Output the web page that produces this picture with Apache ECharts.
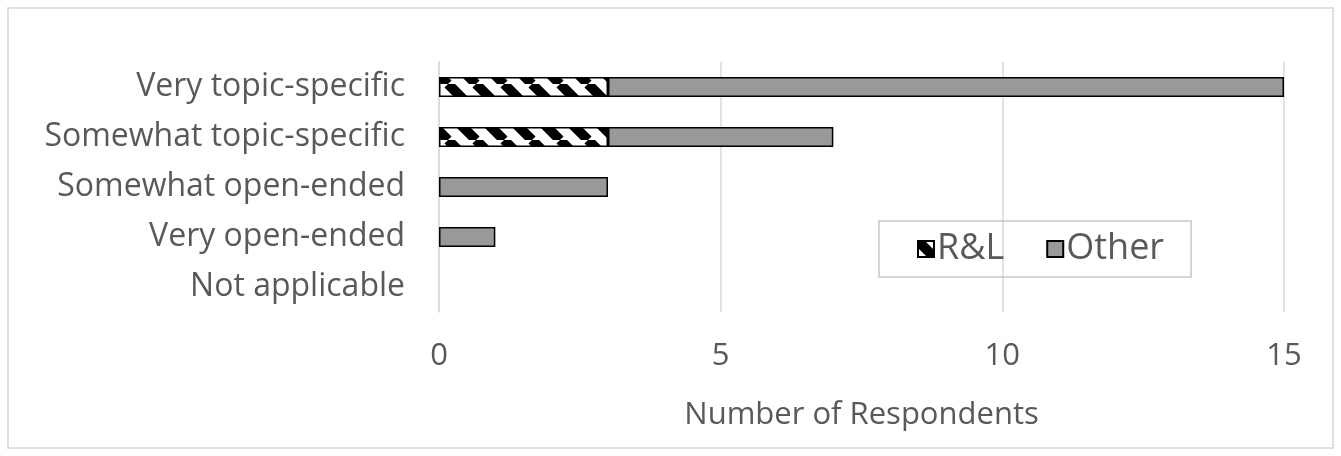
<!DOCTYPE html>
<html>
<head>
<meta charset="utf-8">
<script src="https://cdn.jsdelivr.net/npm/echarts@6/dist/echarts.min.js"></script>
<style>
html,body{margin:0;padding:0;background:#fff;}
#c{width:1341px;height:456px;}
</style>
</head>
<body>
<div id="c"></div>
<script>
const categories = ["Very topic-specific", "Somewhat topic-specific", "Somewhat open-ended", "Very open-ended", "Not applicable"];
const seriesNames = ["R&L", "Other"];
const rlValues = [3, 3, 0, 0, 0];
const otherValues = [12, 4, 3, 1, 0];
const xTicks = [0, 5, 10, 15];

function hatch() {
  const s = 28;
  const cv = document.createElement('canvas');
  cv.width = s; cv.height = s;
  const ctx = cv.getContext('2d');
  ctx.fillStyle = '#fff';
  ctx.fillRect(0, 0, s, s);
  ctx.strokeStyle = '#000';
  ctx.lineWidth = 10;
  for (const x0 of [-s, 0, s]) {
    ctx.beginPath();
    ctx.moveTo(x0, 0);
    ctx.lineTo(x0 + s, s);
    ctx.stroke();
  }
  return cv;
}
// zero-length segments are not drawn
const noZero = arr => arr.map(v => (v === 0 ? '-' : v));

const FONT = "'Open Sans', sans-serif";
const chart = echarts.init(document.getElementById('c'));
chart.setOption({
  animation: false,
  backgroundColor: '#fff',
  graphic: [{
    type: 'rect', shape: {x: 8, y: 8, width: 1325, height: 440},
    style: {fill: 'none', stroke: '#d6d6d6', lineWidth: 1.5}, silent: true, z: -1
  }],
  grid: {left: 439, right: 57, top: 62, bottom: 144},
  legend: {
    data: seriesNames,
    left: 879, top: 221,
    orient: 'horizontal',
    borderColor: '#c8c8c8', borderWidth: 1.5,
    padding: [10, 27, 10, 38],
    itemWidth: 16, itemHeight: 16, itemGap: 42,
    icon: 'rect',
    textStyle: {fontFamily: FONT, fontSize: 36, color: '#595959', padding: [0, 0, 0, -2]}
  },
  xAxis: {
    type: 'value', min: 0, max: 15, interval: 5,
    axisLine: {show: false}, axisTick: {show: false},
    splitLine: {lineStyle: {color: '#d9d9d9', width: 1.5}},
    axisLabel: {fontFamily: FONT, fontSize: 31, color: '#595959', margin: 29,
      formatter: v => xTicks.includes(v) ? String(v) : ''},
    name: 'Number of Respondents', nameLocation: 'middle', nameGap: 88,
    nameTextStyle: {fontFamily: FONT, fontSize: 31, color: '#595959'}
  },
  yAxis: {
    type: 'category', data: categories, inverse: true,
    axisLine: {show: true, lineStyle: {color: '#d9d9d9', width: 1.5}},
    axisTick: {show: false},
    axisLabel: {fontFamily: FONT, fontSize: 32, color: '#595959', margin: 34}
  },
  series: [
    {name: seriesNames[0], type: 'bar', stack: 's', data: noZero(rlValues), barWidth: 20,
     itemStyle: {color: {image: hatch(), repeat: 'repeat'}, borderColor: '#000', borderWidth: 1.5}},
    {name: seriesNames[1], type: 'bar', stack: 's', data: noZero(otherValues), barWidth: 20,
     itemStyle: {color: '#999999', borderColor: '#000', borderWidth: 1.5}}
  ]
});
</script>
</body>
</html>
